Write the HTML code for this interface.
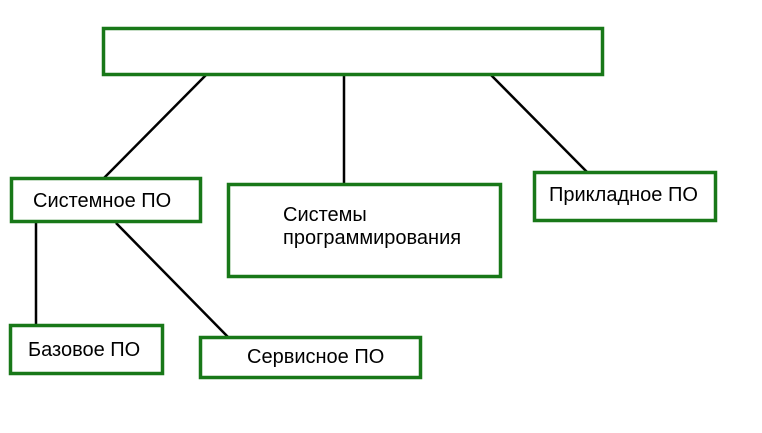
<!DOCTYPE html>
<html><head><meta charset="utf-8"><style>
html,body{margin:0;padding:0;background:#fff;}
svg{display:block;}
text{font-family:"Liberation Sans",Arial,sans-serif;font-size:20px;fill:#000;}
</style></head><body>
<svg width="762" height="433" viewBox="0 0 762 433" xmlns="http://www.w3.org/2000/svg">
<g stroke="#000" stroke-width="2.5" fill="none">
<line x1="206" y1="75" x2="104" y2="178"/>
<line x1="344" y1="76" x2="344" y2="183"/>
<line x1="491" y1="75" x2="587" y2="172"/>
<line x1="36" y1="223" x2="36" y2="324"/>
<line x1="116" y1="223" x2="228" y2="337"/>
</g>
<g stroke="#187818" stroke-width="3.5" fill="#fff">
<rect x="103.5" y="28.5" width="499" height="46"/>
<rect x="11.5" y="178.5" width="189" height="43"/>
<rect x="228.5" y="184.5" width="272" height="92"/>
<rect x="534.5" y="172.5" width="181" height="48"/>
<rect x="10.5" y="325.5" width="152" height="48"/>
<rect x="200.5" y="337.5" width="220" height="40"/>
</g>
<text x="33" y="207">Системное ПО</text>
<text x="283" y="221">Системы</text>
<text x="283" y="244">программирования</text>
<text x="549" y="201">Прикладное ПО</text>
<text x="28" y="356">Базовое ПО</text>
<text x="247" y="363">Сервисное ПО</text>
</svg>
</body></html>
